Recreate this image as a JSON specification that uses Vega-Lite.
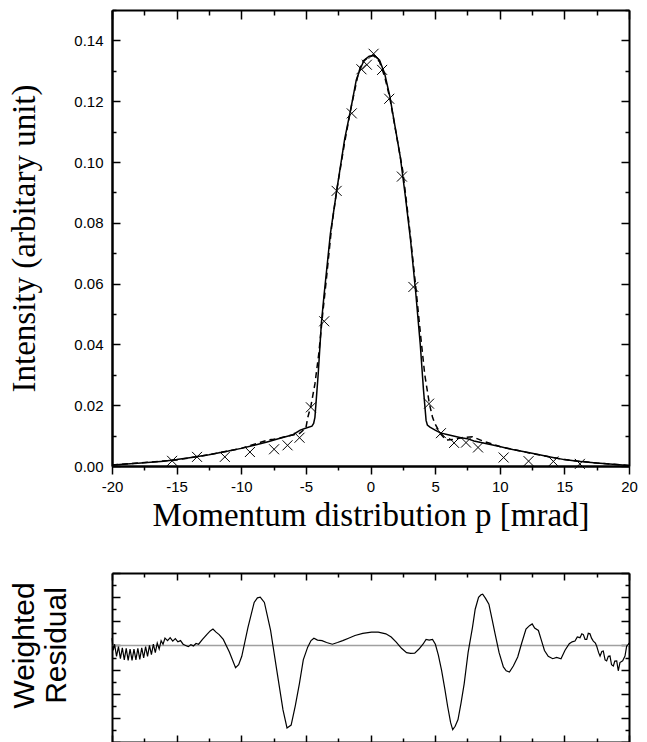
{
  "$schema": "https://vega.github.io/schema/vega-lite/v6.json",
  "background": "white",
  "padding": {"left": 8, "top": 9, "right": 10, "bottom": 0},
  "spacing": 40,
  "config": {
    "view": {"stroke": null},
    "axis": {
      "grid": false,
      "domainColor": "black",
      "domainWidth": 2,
      "tickColor": "black",
      "tickWidth": 1.5,
      "labelFont": "Liberation Sans",
      "labelFontSize": 15,
      "labelColor": "black",
      "titleColor": "black",
      "titleFontWeight": "normal"
    }
  },
  "datasets": {
    "fit": [
      {"p": -20, "v": 0.0003}, {"p": -18, "v": 0.0009}, {"p": -16, "v": 0.0016}, {"p": -15, "v": 0.0021},
      {"p": -14, "v": 0.0027}, {"p": -12.5, "v": 0.0037}, {"p": -11, "v": 0.0049}, {"p": -10, "v": 0.0058},
      {"p": -9, "v": 0.0068}, {"p": -8, "v": 0.0079}, {"p": -7, "v": 0.0091}, {"p": -6, "v": 0.0103},
      {"p": -5.44, "v": 0.0118}, {"p": -4.92, "v": 0.0126}, {"p": -4.53, "v": 0.0131}, {"p": -4.4, "v": 0.014},
      {"p": -4.3, "v": 0.016}, {"p": -4.05, "v": 0.03}, {"p": -3.8, "v": 0.047}, {"p": -3.6, "v": 0.056},
      {"p": -3.1, "v": 0.0765}, {"p": -2.6, "v": 0.091}, {"p": -2.0, "v": 0.1075}, {"p": -1.5, "v": 0.118},
      {"p": -1.1, "v": 0.127}, {"p": -0.8, "v": 0.1305}, {"p": -0.5, "v": 0.1335}, {"p": -0.1, "v": 0.1348},
      {"p": 0.3, "v": 0.135}, {"p": 0.7, "v": 0.1335}, {"p": 1.1, "v": 0.129}, {"p": 1.5, "v": 0.1215},
      {"p": 1.9, "v": 0.1116}, {"p": 2.3, "v": 0.1018}, {"p": 2.7, "v": 0.0886}, {"p": 3.1, "v": 0.0743},
      {"p": 3.5, "v": 0.057}, {"p": 3.85, "v": 0.04}, {"p": 4.1, "v": 0.025}, {"p": 4.3, "v": 0.015},
      {"p": 4.4, "v": 0.0135}, {"p": 4.6, "v": 0.0128}, {"p": 5.0, "v": 0.0118}, {"p": 5.4, "v": 0.0109},
      {"p": 6, "v": 0.0103}, {"p": 7, "v": 0.0093}, {"p": 7.5, "v": 0.009}, {"p": 8, "v": 0.0082},
      {"p": 9, "v": 0.0073}, {"p": 10, "v": 0.0064}, {"p": 11, "v": 0.0054}, {"p": 12.5, "v": 0.0042},
      {"p": 14, "v": 0.0029}, {"p": 15, "v": 0.0021}, {"p": 16, "v": 0.0016}, {"p": 17.5, "v": 0.001},
      {"p": 19, "v": 0.0005}, {"p": 20, "v": 0.0002}
    ],
    "model": [
      {"p": -20, "v": 0.0003}, {"p": -15, "v": 0.002}, {"p": -12.5, "v": 0.0037}, {"p": -10, "v": 0.0058},
      {"p": -8.5, "v": 0.0078}, {"p": -8, "v": 0.0085}, {"p": -7.5, "v": 0.0088}, {"p": -7, "v": 0.0092},
      {"p": -6.5, "v": 0.0098}, {"p": -5.5, "v": 0.0107}, {"p": -5.0, "v": 0.0125}, {"p": -4.85, "v": 0.016},
      {"p": -4.6, "v": 0.02}, {"p": -4.3, "v": 0.027}, {"p": -4.0, "v": 0.037}, {"p": -3.7, "v": 0.05},
      {"p": -3.4, "v": 0.062}, {"p": -3.0, "v": 0.079}, {"p": -2.6, "v": 0.091}, {"p": -2.0, "v": 0.1065},
      {"p": -1.5, "v": 0.118}, {"p": -1.0, "v": 0.128}, {"p": -0.7, "v": 0.1325}, {"p": -0.3, "v": 0.134},
      {"p": 0.2, "v": 0.1352}, {"p": 0.7, "v": 0.133}, {"p": 1.1, "v": 0.128}, {"p": 1.5, "v": 0.121},
      {"p": 2.0, "v": 0.109}, {"p": 2.5, "v": 0.097}, {"p": 3.0, "v": 0.079}, {"p": 3.5, "v": 0.059},
      {"p": 3.9, "v": 0.042}, {"p": 4.2, "v": 0.03}, {"p": 4.55, "v": 0.0206}, {"p": 4.8, "v": 0.016},
      {"p": 5.0, "v": 0.0138}, {"p": 5.4, "v": 0.0107}, {"p": 5.85, "v": 0.0085}, {"p": 6.5, "v": 0.0088},
      {"p": 7.2, "v": 0.0094}, {"p": 7.9, "v": 0.0096}, {"p": 8.7, "v": 0.0082}, {"p": 10, "v": 0.0064},
      {"p": 12.5, "v": 0.0041}, {"p": 15, "v": 0.0021}, {"p": 17.5, "v": 0.001}, {"p": 20, "v": 0.0002}
    ],
    "exp": [
      {"p": -15.35, "v": 0.0017}, {"p": -13.42, "v": 0.003}, {"p": -11.27, "v": 0.003}, {"p": -9.33, "v": 0.0046},
      {"p": -7.46, "v": 0.0055}, {"p": -6.42, "v": 0.0068}, {"p": -5.49, "v": 0.0093}, {"p": -4.61, "v": 0.0193},
      {"p": -3.58, "v": 0.0476}, {"p": -2.62, "v": 0.0905}, {"p": -1.45, "v": 0.116}, {"p": -0.7, "v": 0.1305},
      {"p": -0.28, "v": 0.132}, {"p": 0.24, "v": 0.1356}, {"p": 0.9, "v": 0.1303}, {"p": 1.45, "v": 0.1208},
      {"p": 2.43, "v": 0.0952}, {"p": 3.32, "v": 0.0589}, {"p": 4.53, "v": 0.0205}, {"p": 5.45, "v": 0.0108},
      {"p": 6.47, "v": 0.0076}, {"p": 7.39, "v": 0.0077}, {"p": 8.32, "v": 0.0061}, {"p": 10.3, "v": 0.0028},
      {"p": 12.23, "v": 0.0016}, {"p": 14.15, "v": 0.0015}, {"p": 16.2, "v": 0.0007}
    ],
    "resid": [
      {"p": -20.0, "r": 0.3}, {"p": -19.9, "r": -0.2}, {"p": -19.8, "r": 0.05}, {"p": -19.65, "r": -0.45},
      {"p": -19.5, "r": -0.05}, {"p": -19.35, "r": -0.55}, {"p": -19.2, "r": -0.1}, {"p": -19.05, "r": -0.6},
      {"p": -18.9, "r": -0.12}, {"p": -18.75, "r": -0.62}, {"p": -18.6, "r": -0.15}, {"p": -18.45, "r": -0.62},
      {"p": -18.3, "r": -0.15}, {"p": -18.15, "r": -0.6}, {"p": -18.0, "r": -0.12}, {"p": -17.85, "r": -0.58},
      {"p": -17.7, "r": -0.1}, {"p": -17.55, "r": -0.52}, {"p": -17.4, "r": -0.05}, {"p": -17.25, "r": -0.45},
      {"p": -17.1, "r": 0.0}, {"p": -16.95, "r": -0.38}, {"p": -16.8, "r": 0.05}, {"p": -16.65, "r": -0.3},
      {"p": -16.5, "r": 0.1}, {"p": -16.35, "r": -0.15}, {"p": -16.2, "r": 0.2}, {"p": -16.05, "r": 0.05},
      {"p": -15.9, "r": 0.3}, {"p": -15.7, "r": 0.2}, {"p": -15.5, "r": 0.32}, {"p": -15.3, "r": 0.18},
      {"p": -15.1, "r": 0.28}, {"p": -14.9, "r": 0.15}, {"p": -14.7, "r": 0.2}, {"p": -14.5, "r": 0.05},
      {"p": -14.3, "r": 0.0}, {"p": -14.1, "r": -0.05}, {"p": -13.9, "r": 0.03}, {"p": -13.7, "r": -0.02},
      {"p": -13.5, "r": 0.08}, {"p": -13.3, "r": 0.05}, {"p": -13.0, "r": 0.25}, {"p": -12.67, "r": 0.45},
      {"p": -12.4, "r": 0.6}, {"p": -12.19, "r": 0.68}, {"p": -11.95, "r": 0.55}, {"p": -11.71, "r": 0.45},
      {"p": -11.39, "r": 0.25}, {"p": -10.92, "r": -0.27}, {"p": -10.44, "r": -0.92}, {"p": -10.2, "r": -0.8},
      {"p": -9.96, "r": -0.45}, {"p": -9.48, "r": 0.75}, {"p": -9.0, "r": 1.78}, {"p": -8.75, "r": 1.97},
      {"p": -8.53, "r": 2.0}, {"p": -8.21, "r": 1.78}, {"p": -7.73, "r": 0.62}, {"p": -7.25, "r": -1.03},
      {"p": -6.77, "r": -2.67}, {"p": -6.46, "r": -3.42}, {"p": -6.14, "r": -3.3}, {"p": -5.82, "r": -2.5},
      {"p": -5.5, "r": -1.58}, {"p": -5.2, "r": -0.6}, {"p": -4.86, "r": -0.07}, {"p": -4.6, "r": 0.2},
      {"p": -4.38, "r": 0.3}, {"p": -4.1, "r": 0.22}, {"p": -3.75, "r": 0.2}, {"p": -3.4, "r": 0.12},
      {"p": -2.95, "r": 0.05}, {"p": -2.55, "r": 0.12}, {"p": -2.15, "r": 0.2}, {"p": -1.7, "r": 0.3},
      {"p": -1.2, "r": 0.41}, {"p": -0.6, "r": 0.5}, {"p": 0.08, "r": 0.55}, {"p": 0.6, "r": 0.55},
      {"p": 1.19, "r": 0.48}, {"p": 1.6, "r": 0.35}, {"p": 1.99, "r": 0.14}, {"p": 2.4, "r": -0.12},
      {"p": 2.79, "r": -0.3}, {"p": 3.1, "r": -0.33}, {"p": 3.42, "r": -0.32}, {"p": 3.75, "r": -0.15},
      {"p": 4.06, "r": 0.05}, {"p": 4.3, "r": 0.25}, {"p": 4.54, "r": 0.22}, {"p": 4.8, "r": 0.25},
      {"p": 5.02, "r": 0.05}, {"p": 5.25, "r": -0.4}, {"p": 5.5, "r": -1.03}, {"p": 5.75, "r": -1.8},
      {"p": 5.97, "r": -2.53}, {"p": 6.2, "r": -3.2}, {"p": 6.36, "r": -3.49}, {"p": 6.55, "r": -3.35},
      {"p": 6.77, "r": -3.07}, {"p": 7.0, "r": -2.4}, {"p": 7.25, "r": -1.58}, {"p": 7.55, "r": -0.3},
      {"p": 7.89, "r": 0.75}, {"p": 8.1, "r": 1.5}, {"p": 8.36, "r": 1.99}, {"p": 8.55, "r": 2.1},
      {"p": 8.68, "r": 2.12}, {"p": 8.9, "r": 1.95}, {"p": 9.16, "r": 1.71}, {"p": 9.4, "r": 1.1},
      {"p": 9.64, "r": 0.48}, {"p": 9.95, "r": -0.3}, {"p": 10.28, "r": -0.89}, {"p": 10.5, "r": -1.05},
      {"p": 10.75, "r": -1.1}, {"p": 11.05, "r": -0.85}, {"p": 11.39, "r": -0.48}, {"p": 11.7, "r": 0.1},
      {"p": 12.03, "r": 0.68}, {"p": 12.3, "r": 0.82}, {"p": 12.51, "r": 0.89}, {"p": 12.7, "r": 0.72},
      {"p": 12.99, "r": 0.62}, {"p": 13.2, "r": 0.25}, {"p": 13.46, "r": -0.21}, {"p": 13.75, "r": -0.45},
      {"p": 14.1, "r": -0.55}, {"p": 14.4, "r": -0.5}, {"p": 14.74, "r": -0.55}, {"p": 15.05, "r": -0.2},
      {"p": 15.38, "r": 0.07}, {"p": 15.6, "r": 0.15}, {"p": 15.82, "r": 0.18}, {"p": 16.0, "r": 0.35},
      {"p": 16.21, "r": 0.32}, {"p": 16.35, "r": 0.48}, {"p": 16.47, "r": 0.45}, {"p": 16.6, "r": 0.25},
      {"p": 16.73, "r": 0.25}, {"p": 16.85, "r": 0.5}, {"p": 16.98, "r": 0.48}, {"p": 17.1, "r": 0.3},
      {"p": 17.24, "r": 0.18}, {"p": 17.4, "r": 0.1}, {"p": 17.5, "r": -0.03}, {"p": 17.65, "r": -0.3},
      {"p": 17.76, "r": -0.44}, {"p": 17.9, "r": -0.25}, {"p": 18.01, "r": -0.23}, {"p": 18.15, "r": -0.6},
      {"p": 18.27, "r": -0.64}, {"p": 18.4, "r": -0.45}, {"p": 18.53, "r": -0.44}, {"p": 18.65, "r": -0.8},
      {"p": 18.79, "r": -0.85}, {"p": 18.9, "r": -0.65}, {"p": 19.05, "r": -0.64}, {"p": 19.17, "r": -1.05},
      {"p": 19.3, "r": -0.71}, {"p": 19.51, "r": -0.64}, {"p": 19.69, "r": -0.44}, {"p": 19.82, "r": -0.03},
      {"p": 19.95, "r": 0.04}, {"p": 20.0, "r": 0.1}
    ],
    "zero": [{"p0": -20, "p1": 20, "r": 0}]
  },
  "vconcat": [
    {
      "width": 517,
      "height": 456,
      "resolve": {"axis": {"x": "independent", "y": "independent"}},
      "layer": [
        {
          "data": {"name": "fit"},
          "mark": {"type": "line", "color": "black", "strokeWidth": 1.5},
          "encoding": {
            "x": {
              "field": "p", "type": "quantitative",
              "scale": {"domain": [-20, 20], "nice": false, "zero": false},
              "axis": {
                "orient": "bottom",
                "values": [-20, -15, -10, -5, 0, 5, 10, 15, 20],
                "labelExpr": "'' + datum.value",
                "tickSize": 8,
                "labelPadding": 5,
                "labelFlush": false,
                "labelOverlap": false,
                "title": "Momentum distribution p [mrad]",
                "titleFont": "Liberation Serif",
                "titleFontSize": 33,
                "titlePadding": 5
              }
            },
            "y": {
              "field": "v", "type": "quantitative",
              "scale": {"domain": [0, 0.15], "nice": false},
              "axis": {
                "orient": "left",
                "values": [0, 0.02, 0.04, 0.06, 0.08, 0.1, 0.12, 0.14],
                "format": ".2f",
                "tickSize": -8,
                "labelPadding": 17,
                "labelFlush": false,
                "labelOverlap": false,
                "title": "Intensity (arbitary unit)",
                "titleFont": "Liberation Serif",
                "titleFontSize": 33,
                "titlePadding": 32
              }
            }
          }
        },
        {
          "data": {"name": "model"},
          "mark": {"type": "line", "color": "black", "strokeWidth": 1.5, "strokeDash": [6, 4]},
          "encoding": {
            "x": {
              "field": "p", "type": "quantitative",
              "axis": {
                "orient": "top",
                "values": [-20, -17.5, -15, -12.5, -10, -7.5, -5, -2.5, 0, 2.5, 5, 7.5, 10, 12.5, 15, 17.5, 20],
                "labels": false,
                "tickSize": {"condition": {"test": "datum.value % 5 === 0", "value": -9}, "value": -5},
                "title": null
              }
            },
            "y": {
              "field": "v", "type": "quantitative",
              "axis": {
                "orient": "right",
                "values": [0, 0.01, 0.02, 0.03, 0.04, 0.05, 0.06, 0.07, 0.08, 0.09, 0.1, 0.11, 0.12, 0.13, 0.14, 0.15],
                "labels": false,
                "tickSize": {"condition": {"test": "round(datum.value * 100) % 2 === 0", "value": -8}, "value": -4},
                "title": null
              }
            }
          }
        },
        {
          "data": {"name": "exp"},
          "mark": {"type": "point", "shape": "M-1,-1L1,1M-1,1L1,-1", "filled": false, "color": "black", "strokeWidth": 1, "size": 100, "opacity": 1},
          "encoding": {
            "x": {
              "field": "p", "type": "quantitative",
              "axis": {
                "orient": "bottom",
                "values": [-17.5, -12.5, -7.5, -2.5, 2.5, 7.5, 12.5, 17.5],
                "labels": false,
                "tickSize": 4,
                "title": null
              }
            },
            "y": {
              "field": "v", "type": "quantitative",
              "axis": {
                "orient": "left",
                "values": [0.01, 0.03, 0.05, 0.07, 0.09, 0.11, 0.13, 0.15],
                "labels": false,
                "tickSize": -4,
                "title": null
              }
            }
          }
        }
      ]
    },
    {
      "width": 517,
      "height": 169,
      "resolve": {"axis": {"x": "independent", "y": "independent"}},
      "layer": [
        {
          "data": {"name": "zero"},
          "mark": {"type": "rule", "color": "#a0a0a0", "strokeWidth": 1.5},
          "encoding": {
            "x": {
              "field": "p0", "type": "quantitative",
              "scale": {"domain": [-20, 20], "nice": false, "zero": false},
              "axis": {
                "orient": "top",
                "values": [-20, -17.5, -15, -12.5, -10, -7.5, -5, -2.5, 0, 2.5, 5, 7.5, 10, 12.5, 15, 17.5, 20],
                "labels": false,
                "tickSize": {"condition": {"test": "datum.value % 5 === 0", "value": -7}, "value": -4},
                "title": null
              }
            },
            "x2": {"field": "p1"},
            "y": {
              "field": "r", "type": "quantitative",
              "scale": {"domain": [-4, 3], "nice": false},
              "axis": {
                "orient": "right",
                "values": [-4, -3.5, -3, -2.5, -2, -1.5, -1, -0.5, 0, 0.5, 1, 1.5, 2, 2.5, 3],
                "labels": false,
                "tickSize": {"condition": {"test": "datum.value % 1 === 0", "value": -8}, "value": -4},
                "title": null
              }
            }
          }
        },
        {
          "data": {"name": "resid"},
          "mark": {"type": "line", "color": "black", "strokeWidth": 1.2},
          "encoding": {
            "x": {
              "field": "p", "type": "quantitative",
              "axis": {
                "orient": "bottom",
                "values": [-20, -17.5, -15, -12.5, -10, -7.5, -5, -2.5, 0, 2.5, 5, 7.5, 10, 12.5, 15, 17.5, 20],
                "labels": false,
                "tickSize": {"condition": {"test": "datum.value % 5 === 0", "value": -7}, "value": -4},
                "title": null
              }
            },
            "y": {
              "field": "r", "type": "quantitative",
              "axis": {
                "orient": "left",
                "values": [-4, -3.5, -3, -2.5, -2, -1.5, -1, -0.5, 0, 0.5, 1, 1.5, 2, 2.5, 3],
                "labels": false,
                "tickSize": {"condition": {"test": "datum.value % 1 === 0", "value": -8}, "value": -4},
                "title": ["Weighted", "Residual"],
                "titleFont": "Liberation Sans",
                "titleFontSize": 30,
                "titlePadding": 40,
                "titleY": 72
              }
            }
          }
        }
      ]
    }
  ]
}
